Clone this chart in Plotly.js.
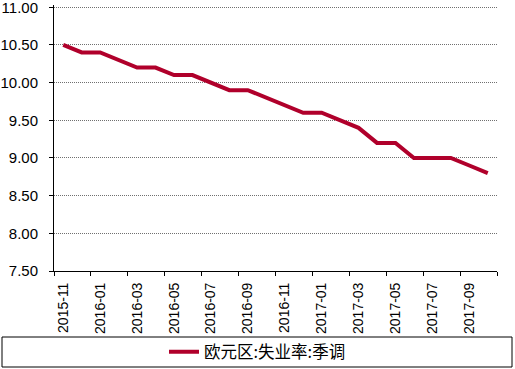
<!DOCTYPE html>
<html>
<head>
<meta charset="utf-8">
<script src="https://cdn.plot.ly/plotly-3.0.1.min.js"></script>
<style>html,body{margin:0;padding:0;background:#fff;}#chart{width:515px;height:369px;}</style>
</head>
<body>
<div id="chart"></div>
<script>
var months = ["2015-11","2015-12","2016-01","2016-02","2016-03","2016-04","2016-05","2016-06","2016-07","2016-08","2016-09","2016-10","2016-11","2016-12","2017-01","2017-02","2017-03","2017-04","2017-05","2017-06","2017-07","2017-08","2017-09","2017-10"];
var unemployment = [10.5,10.4,10.4,10.3,10.2,10.2,10.1,10.1,10.0,9.9,9.9,9.8,9.7,9.6,9.6,9.5,9.4,9.2,9.2,9.0,9.0,9.0,8.9,8.8];
var seriesName = "欧元区:失业率:季调";
var yTicks = [7.5, 8.0, 8.5, 9.0, 9.5, 10.0, 10.5, 11.0];

var trace = {
  x: months, y: unemployment, type: "scatter", mode: "lines", name: seriesName,
  line: {color: "#B0002B", width: 4}
};

var layout = {
  width: 515, height: 369,
  margin: {l: 54, r: 18, t: 5, b: 98},
  paper_bgcolor: "#fff", plot_bgcolor: "#fff",
  showlegend: true,
  legend: {
    orientation: "h", x: 0.5, xanchor: "center", xref: "container",
    y: 1 - 352/369, yref: "container", yanchor: "middle",
    font: {family: "Noto Sans CJK SC", size: 16.5, color: "#000"},
    bgcolor: "rgba(0,0,0,0)", borderwidth: 0
  },
  xaxis: {
    type: "category", tickson: "boundaries", dtick: 2, tick0: 0,
    range: [-0.5, 23.5],
    showline: true, linecolor: "#000", linewidth: 1,
    ticks: "outside", ticklen: 4, tickcolor: "#000",
    tickangle: -90, showgrid: false, zeroline: false, ticklabelstandoff: 5,
    tickfont: {family: "Liberation Sans, Arial", size: 14, color: "#000"}
  },
  yaxis: {
    range: [7.5, 11.03], tickmode: "array", tickvals: yTicks, tickformat: ".2f",
    ticklabeloverflow: "allow",
    showline: true, linecolor: "#000", linewidth: 1,
    ticks: "outside", ticklen: 4, tickcolor: "#000",
    showgrid: true, gridcolor: "#707070", griddash: "1px,1px", gridwidth: 1,
    zeroline: false, ticklabelstandoff: 8,
    tickfont: {family: "Liberation Sans, Arial", size: 15, color: "#000"}
  },
  shapes: [{
    type: "rect", xref: "paper", yref: "paper",
    x0: -52/443, x1: (512-54)/443, y0: (271-367)/266, y1: (271-337)/266,
    line: {color: "#000", width: 1}, fillcolor: "rgba(0,0,0,0)"
  }]
};

Plotly.newPlot("chart", [trace], layout, {displayModeBar: false, staticPlot: true});
</script>
</body>
</html>
